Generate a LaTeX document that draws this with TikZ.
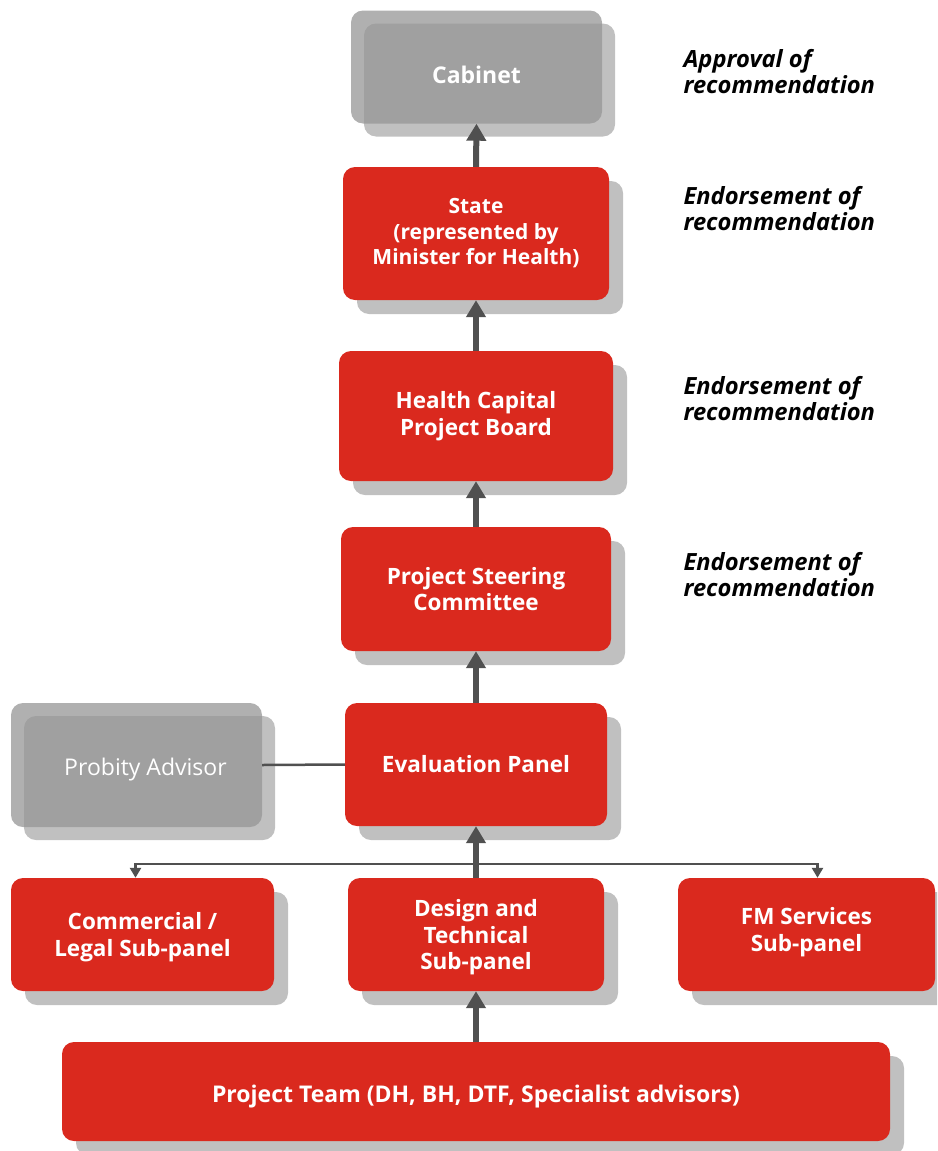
\documentclass[tikz,border=0pt]{standalone}
\usepackage{fontspec}
\setmainfont{Open Sans}
\usetikzlibrary{arrows.meta,shadows,calc}
\definecolor{boxred}{RGB}{218,41,30}
\definecolor{shade}{RGB}{192,192,192}
\definecolor{greyfill}{RGB}{150,150,150}
\definecolor{darkline}{RGB}{80,80,80}
\begin{document}
\begin{tikzpicture}[x=1pt,y=-1pt,
  redbox/.style={fill=boxred, rounded corners=12pt, text=white, align=center,
    font=\fontsize{22.5}{26.5}\selectfont\bfseries, inner sep=0pt,
    drop shadow={shadow xshift=14pt, shadow yshift=-14pt, fill=shade, opacity=1}},
  greybox/.style={fill=greyfill, fill opacity=0.75, text opacity=1, rounded corners=12pt, text=white, align=center,
    inner sep=0pt,
    drop shadow={shadow xshift=13pt, shadow yshift=-13pt, fill=shade, opacity=1}},
  note/.style={anchor=west, align=left, font=\fontsize{23.7}{26}\selectfont\bfseries\itshape},
  bigarrow/.style={draw=darkline, line width=6pt, -{Triangle[width=19pt,length=17pt]}},
  smallarrow/.style={draw=darkline, line width=2.5pt, {Triangle[width=11pt,length=10pt]}-{Triangle[width=11pt,length=10pt]}},
  link/.style={draw=darkline, line width=2.5pt}
]
\useasboundingbox (0,0) rectangle (937,1151);
\begin{scope}
\clip (0,0) rectangle (937,1151);
\node[greybox, minimum width=251pt, minimum height=113pt, text height=33pt, text depth=0pt, font=\fontsize{23}{26}\selectfont\bfseries] (cab) at (476.5,67) {Cabinet};
\node[redbox, minimum width=266pt, minimum height=133pt, font=\fontsize{21}{25.5}\selectfont\bfseries] (state) at (476,233.5) {State\\(represented by\\Minister for Health)};
\node[redbox, minimum width=274pt, minimum height=130pt] (hcpb) at (476,416) {Health Capital\\Project Board};
\node[redbox, minimum width=270pt, minimum height=124pt] (psc) at (476,589) {Project Steering\\Committee};
\node[redbox, minimum width=262pt, minimum height=123pt] (eval) at (476,764.5) {Evaluation Panel};
\node[greybox, minimum width=251pt, minimum height=124pt, text height=25pt, text depth=5pt, font=\fontsize{23}{26}\selectfont] (prob) at (136.5,765) {\hspace*{18pt}Probity Advisor};
\node[redbox, minimum width=263pt, minimum height=113pt, text depth=0pt] (comm) at (142.5,934.5) {Commercial /\\Legal Sub-panel};
\node[redbox, minimum width=256pt, minimum height=113pt, text depth=-3pt] (design) at (476,934.5) {Design and\\Technical\\Sub-panel};
\node[redbox, minimum width=257pt, minimum height=113pt, text depth=10pt] (fm) at (806.5,934.5) {FM Services\\Sub-panel};
\node[redbox, minimum width=828pt, minimum height=99pt, text height=27pt, text depth=5pt, font=\fontsize{23}{26}\selectfont\bfseries] (team) at (476,1091.5) {Project Team (DH, BH, DTF, Specialist advisors)};
\end{scope}

\node[note] (n1) at (680,72) {Approval of\\recommendation};
\node[note] (n2) at (680,209) {Endorsement of\\recommendation};
\node[note] (n3) at (680,399) {Endorsement of\\recommendation};
\node[note] (n4) at (680,575) {Endorsement of\\recommendation};

\draw[bigarrow] (state.north) -- (cab.south);
\draw[bigarrow] (hcpb.north) -- (state.south);
\draw[bigarrow] (psc.north) -- (hcpb.south);
\draw[bigarrow] (eval.north) -- (psc.south);
\draw[bigarrow] (design.north) -- (eval.south);
\draw[bigarrow] (team.north) -- (design.south);
\draw[link] (prob.east) -- (eval.west);
\coordinate (bar) at (476,864);
\coordinate (cl) at ($(comm.north)+(-7,0)$);
\coordinate (fr) at ($(fm.north)+(11,0)$);
\draw[smallarrow] (cl) |- (bar) -| (fr);
\end{tikzpicture}
\end{document}
